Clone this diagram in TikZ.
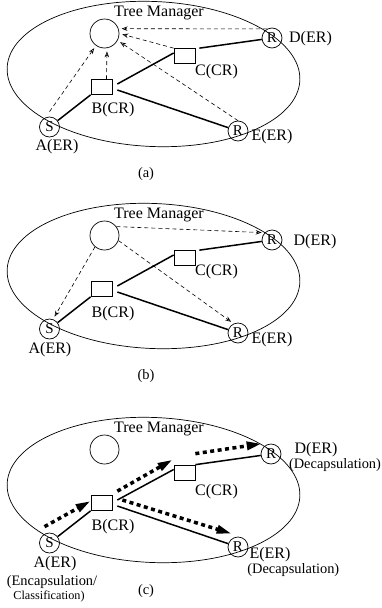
\documentclass[tikz,border=0pt]{standalone}
\usepackage{fontspec}
\setmainfont{Liberation Serif}
\usetikzlibrary{arrows.meta}
\tikzset{
  er/.style={
    circle,
    draw,
    minimum size=20pt,
    inner sep=0pt,
    font=\fontsize{15}{15}\selectfont
  },
  cr/.style={
    rectangle,
    draw,
    minimum width=21pt,
    minimum height=15pt,
    inner sep=0pt
  },
  mgr/.style={
    circle,
    draw,
    minimum size=29pt,
    inner sep=0pt
  },
  lbl/.style={inner sep=0pt, font=\fontsize{16}{16}\selectfont},
  note/.style={inner sep=0pt, font=\fontsize{14.4}{14.4}\selectfont},
  tiny/.style={inner sep=0pt, font=\fontsize{12.2}{12.2}\selectfont},
  link/.style={line width=1.5pt},
  ctrl/.style={
    line width=0.6pt,
    dash pattern=on 4pt off 3pt,
    -{Stealth[open,length=6pt,width=4.5pt]},
    shorten >=3pt
  },
  flow/.style={
    line width=3.5pt,
    dash pattern=on 4pt off 3.5pt,
    -{Triangle[length=15pt,width=8pt]}
  }
}

\begin{document}
\begin{tikzpicture}[x=1pt,y=-1pt,line width=0.7pt]
\useasboundingbox (0,0) rectangle (382,608);

% (a) join requests to the tree manager
\draw[rotate around={-2.5:(153.5,74)}] (153.5,74) ellipse [x radius=146.5pt, y radius=72.5pt];
\node[mgr] (ma) at (104.5,33.5) {};
\node[er] (sa) at (49.5,127) {S};
\node[cr] (ba) at (101.5,87) {};
\node[cr] (ca) at (184.5,56) {};
\node[er] (da) at (272,38) {R};
\node[er] (ea) at (238,131) {R};
\node[lbl] (tma) at (159,12.7) {Tree Manager};
\node[lbl] (la) at (57,147) {A(ER)};
\node[lbl] (lba) at (113,110) {B(CR)};
\node[lbl] (lca) at (216.5,71.5) {C(CR)};
\node[lbl] (lda) at (310.5,38.5) {D(ER)};
\node[lbl] (lea) at (272,137) {E(ER)};
\node[note] (capa) at (146,174) {(a)};
\draw[link] (sa) -- (ba.south west);
\draw[link] ([shift={(5,-3)}]ba.east) -- ([shift={(0,-3)}]ca.west);
\draw[link] ([shift={(5,3)}]ba.east) -- (ea);
\draw[link] ([shift={(4,0)}]ca.north east) -- (da);
\draw[ctrl] ([yshift=5pt]sa.north) -- (ma);
\draw[ctrl] ([xshift=5pt]ba.north) -- ([xshift=2.5pt]ma.south);
\draw[ctrl] (ca.north west) -- (ma.east);
\draw[ctrl] (da.119) -- (ma.19);
\draw[ctrl] (ea.north) -- (ma.-28);

% (b) tree manager answers
\begin{scope}[yshift=-202pt]
\draw[rotate around={-2.5:(153.5,74)}] (153.5,74) ellipse [x radius=146.5pt, y radius=72.5pt];
\node[mgr] (mb) at (104.5,33.5) {};
\node[er] (sb) at (49.5,127) {S};
\node[cr] (bb) at (101.5,87) {};
\node[cr] (cb) at (184.5,56) {};
\node[er] (db) at (272,38) {R};
\node[er] (eb) at (238,131) {R};
\node[lbl] (tmb) at (159,13) {Tree Manager};
\node[lbl] (lab) at (50,148) {A(ER)};
\node[lbl] (lbb) at (113,112) {B(CR)};
\node[lbl] (lcb) at (216.5,70) {C(CR)};
\node[lbl] (ldb) at (315,39.5) {D(ER)};
\node[lbl] (leb) at (272,138) {E(ER)};
\node[note] (capb) at (146,174.5) {(b)};
\draw[link] (sb) -- (bb.south west);
\draw[link] ([shift={(5,-3)}]bb.east) -- ([shift={(0,-3)}]cb.west);
\draw[link] ([shift={(5,3)}]bb.east) -- (eb);
\draw[link] ([shift={(4,0)}]cb.north east) -- (db);
\draw[ctrl] (mb.37) -- (db.135);
\draw[ctrl] (mb.-20) -- (eb.115);
\draw[ctrl] (mb.230) -- (sb.70);
\end{scope}

% (c) data along the tree
\begin{scope}[yshift=-416pt]
\draw[rotate around={-2.5:(153.5,74)}] (153.5,74) ellipse [x radius=146.5pt, y radius=72.5pt];
\node[mgr] (mc) at (104.5,33.5) {};
\node[er] (sc) at (49.5,127) {S};
\node[cr] (bc) at (101.5,87) {};
\node[cr] (cc) at (184.5,56.5) {};
\node[er] (dc) at (271,38) {R};
\node[er] (ec) at (238,131) {R};
\node[lbl] (tmc) at (159,12.7) {Tree Manager};
\node[lbl] (lac) at (55,148) {A(ER)};
\node[note] (encc) at (52,165.7) {(Encapsulation/};
\node[tiny] (clsc) at (49,180) {Classification)};
\node[lbl] (lbc) at (113,110.7) {B(CR)};
\node[lbl] (lcc) at (216.5,75.7) {C(CR)};
\node[lbl] (ldc) at (316,34) {D(ER)};
\node[note] (decd) at (335,49) {(Decapsulation)};
\node[lbl] (lec) at (270,139) {E(ER)};
\node[note] (dece) at (293.3,154) {(Decapsulation)};
\node[note] (capc) at (146,175.5) {(c)};
\draw[link] (sc) -- (bc.south west);
\draw[link] ([shift={(5,-3)}]bc.east) -- ([shift={(0,-3)}]cc.west);
\draw[link] ([shift={(5,3)}]bc.east) -- (ec);
\draw[link] (cc.north east) -- (dc);
\draw[flow] ([shift={(-5,-6)}]sc.north) -- ([shift={(0,-2)}]bc.west);
\draw[flow] ([shift={(5,-4)}]bc.north east) -- ([shift={(-1,-5)}]cc.north west);
\draw[flow] ([shift={(0,-11)}]cc.north east) -- ([shift={(-2,-3)}]dc.north west);
\draw[flow] ([shift={(10,-3)}]bc.east) -- ([shift={(1,-6)}]ec.north west);
\end{scope}
\end{tikzpicture}
\end{document}
